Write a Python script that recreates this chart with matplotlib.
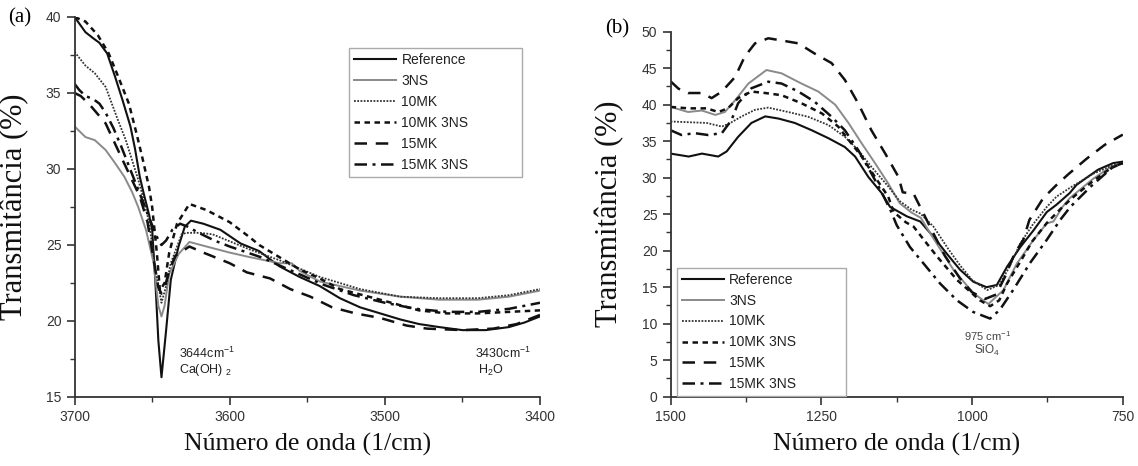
import matplotlib
matplotlib.use("Agg")
import matplotlib.pyplot as plt
from matplotlib.ticker import MultipleLocator

plt.rcParams['font.family'] = ['Liberation Sans', 'DejaVu Sans']
plt.rcParams['mathtext.default'] = 'regular'

# ---- panel (a): 3700-3400 cm-1 ----
ref_a_wn = [3700, 3693, 3688, 3684, 3679, 3674, 3669, 3664, 3661, 3658, 3655, 3652, 3650, 3648, 3646,
            3644, 3641, 3638, 3633, 3629, 3625, 3617, 3606, 3593, 3581, 3568, 3555, 3542, 3529, 3516,
            3503, 3490, 3478, 3465, 3450, 3435, 3420, 3410, 3400]
ref_a_t = [40.0, 39.0, 38.6, 38.3, 37.6, 36.1, 34.5, 32.8, 31.3, 29.5, 28.2, 27.0, 26.0, 22.7, 18.7,
           16.3, 19.4, 22.7, 24.9, 26.2, 26.6, 26.4, 26.0, 25.1, 24.6, 23.6, 22.9, 22.3, 21.5, 20.9,
           20.5, 20.1, 19.8, 19.6, 19.4, 19.4, 19.6, 19.9, 20.3]

ns3_a_wn = [3700, 3693, 3687, 3680, 3674, 3668, 3663, 3659, 3654, 3649, 3646, 3644, 3642, 3639, 3633,
            3626, 3615, 3600, 3587, 3568, 3560, 3555, 3542, 3516, 3490, 3465, 3440, 3420, 3400]
ns3_a_t = [32.8, 32.1, 31.9, 31.25, 30.4, 29.5, 28.5, 27.5, 26.0, 23.8, 21.0, 20.3, 21.0, 23.1, 24.4,
           25.2, 24.9, 24.5, 24.2, 23.8, 23.8, 23.3, 22.6, 22.0, 21.6, 21.4, 21.4, 21.6, 22.0]

mk10_a_wn = [3700, 3693, 3687, 3680, 3676, 3672, 3667, 3663, 3659, 3656, 3652, 3648, 3644, 3641, 3638,
             3631, 3628, 3619, 3611, 3587, 3568, 3542, 3516, 3490, 3465, 3440, 3420, 3400]
mk10_a_t = [37.7, 36.8, 36.3, 35.4, 34.3, 33.2, 31.9, 30.6, 29.3, 28.2, 26.5, 23.5, 21.2, 22.3, 23.8,
            25.7, 25.8, 25.8, 25.7, 24.7, 24.0, 22.9, 22.1, 21.6, 21.5, 21.5, 21.7, 22.1]

mk10ns3_a_wn = [3700, 3693, 3685, 3678, 3672, 3665, 3660, 3656, 3652, 3650, 3647, 3645, 3642, 3639, 3634,
                3626, 3615, 3600, 3587, 3581, 3568, 3555, 3542, 3529, 3503, 3478, 3460, 3440, 3420, 3400]
mk10ns3_a_t = [40.0, 39.7, 38.8, 37.6, 36.1, 34.3, 32.3, 30.6, 28.8, 27.5, 24.5, 22.0, 22.5, 24.5, 26.4,
               27.7, 27.3, 26.5, 25.5, 25.0, 24.2, 23.4, 22.8, 22.1, 21.4, 20.7, 20.5, 20.5, 20.6, 20.7]

mk15_a_wn = [3700, 3696, 3690, 3680, 3675, 3670, 3664, 3658, 3653, 3649, 3646, 3644, 3642, 3639, 3635,
             3626, 3617, 3600, 3589, 3574, 3561, 3548, 3534, 3519, 3503, 3486, 3473, 3450, 3430, 3415, 3400]
mk15_a_t = [35.0, 34.8, 34.2, 33.0, 31.9, 30.8, 29.5, 28.2, 26.5, 24.0, 22.2, 21.8, 22.2, 23.3, 24.3,
            24.9, 24.5, 23.8, 23.2, 22.8, 22.1, 21.6, 20.9, 20.5, 20.2, 19.7, 19.5, 19.4, 19.5, 19.8, 20.4]

mk15ns3_a_wn = [3700, 3697, 3693, 3688, 3684, 3680, 3675, 3670, 3665, 3660, 3655, 3650, 3646, 3644, 3641,
                3637, 3632, 3627, 3620, 3610, 3600, 3580, 3560, 3540, 3520, 3500, 3480, 3460, 3440, 3420, 3400]
mk15ns3_a_t = [35.6, 35.2, 34.8, 34.6, 34.3, 33.7, 32.7, 31.5, 30.2, 28.9, 27.6, 26.3, 25.3, 25.0, 25.3,
               26.0, 26.4, 26.2, 25.8, 25.3, 24.9, 24.2, 23.3, 22.4, 21.7, 21.2, 20.8, 20.6, 20.6, 20.8, 21.2]

# ---- panel (b): 1500-750 cm-1 ----
ref_b_wn = [1500, 1470, 1448, 1421, 1407, 1388, 1366, 1343, 1321, 1294, 1266, 1238, 1211, 1194, 1172,
            1150, 1136, 1108, 1086, 1064, 1042, 1020, 998, 976, 959, 942, 920, 898, 876, 860, 838, 827,
            810, 791, 766, 750]
ref_b_t = [33.3, 32.9, 33.3, 32.9, 33.6, 35.6, 37.5, 38.4, 38.1, 37.5, 36.5, 35.4, 34.2, 32.9, 30.1,
           27.9, 26.0, 24.7, 24.0, 21.9, 19.6, 17.4, 15.75, 15.0, 15.3, 17.8, 20.5, 22.8, 25.3, 26.3, 27.9,
           29.0, 30.0, 31.1, 32.0, 32.2]

ns3_b_wn = [1500, 1471, 1448, 1426, 1410, 1393, 1371, 1341, 1316, 1283, 1255, 1227, 1205, 1183, 1161,
            1139, 1120, 1100, 1085, 1065, 1031, 998, 973, 948, 926, 898, 876, 865, 850, 838, 800, 770, 750]
ns3_b_t = [39.7, 39.0, 39.2, 38.6, 39.0, 40.6, 42.9, 44.75, 44.3, 42.9, 41.8, 40.0, 37.5, 34.7, 32.0,
           29.2, 26.5, 25.2, 24.5, 21.8, 17.4, 14.2, 12.7, 14.6, 18.2, 21.5, 23.75, 24.0, 26.0, 27.2, 29.8,
           31.5, 32.0]

mk10_b_wn = [1500, 1470, 1440, 1415, 1402, 1382, 1360, 1338, 1305, 1272, 1238, 1211, 1189, 1167, 1139,
             1120, 1100, 1086, 1064, 1040, 1020, 1000, 975, 955, 940, 920, 900, 876, 860, 838, 800, 770, 750]
mk10_b_t = [37.7, 37.6, 37.5, 37.0, 37.45, 38.4, 39.3, 39.6, 39.0, 38.35, 37.2, 35.6, 33.8, 31.5, 28.8,
            26.8, 25.6, 25.1, 23.3, 20.3, 18.0, 16.0, 14.6, 15.3, 17.5, 21.0, 23.5, 26.0, 27.4, 28.6, 30.5,
            31.6, 32.0]

mk10ns3_b_wn = [1500, 1471, 1440, 1421, 1405, 1388, 1366, 1343, 1316, 1283, 1249, 1222, 1205, 1183, 1161,
                1139, 1130, 1110, 1097, 1080, 1058, 1025, 987, 970, 955, 942, 920, 900, 876, 850, 830, 800,
                770, 750]
mk10ns3_b_t = [39.7, 39.5, 39.5, 39.0, 39.5, 40.9, 41.8, 41.6, 41.3, 40.2, 38.8, 37.0, 35.2, 32.9, 30.1,
               27.4, 25.3, 23.9, 23.3, 21.5, 19.2, 16.0, 13.2, 12.4, 13.2, 15.5, 18.5, 21.3, 23.8, 26.0, 27.5,
               29.5, 31.3, 32.0]

mk15_b_wn = [1500, 1487, 1471, 1448, 1432, 1415, 1393, 1377, 1360, 1338, 1316, 1288, 1261, 1233, 1211,
             1189, 1167, 1144, 1122, 1115, 1097, 1080, 1065, 1045, 1020, 1000, 978, 960, 945, 930, 915, 905,
             882, 860, 840, 810, 780, 750]
mk15_b_t = [43.2, 42.2, 41.6, 41.6, 40.9, 41.8, 43.8, 46.6, 48.4, 49.1, 48.8, 48.4, 47.0, 45.7, 43.4,
            40.2, 36.5, 33.3, 30.1, 28.0, 27.8, 25.0, 22.5, 19.3, 16.2, 14.3, 13.4, 14.0, 16.5, 19.5, 21.5, 24.2,
            27.2, 29.0, 30.5, 32.6, 34.5, 35.9]

mk15ns3_b_wn = [1500, 1482, 1460, 1438, 1415, 1399, 1388, 1366, 1338, 1316, 1288, 1261, 1233, 1211, 1189,
                1167, 1150, 1135, 1125, 1103, 1081, 1053, 1025, 998, 970, 954, 932, 904, 876, 854, 837, 803,
                766, 750]
mk15ns3_b_t = [36.5, 35.85, 36.1, 35.85, 36.1, 37.9, 40.2, 42.25, 43.15, 42.9, 41.8, 40.4, 38.35, 36.5, 33.8,
               30.6, 28.0, 25.5, 23.5, 20.5, 18.3, 15.5, 13.2, 11.6, 10.7, 11.9, 14.6, 18.3, 21.5, 24.2, 26.0,
               28.8, 31.5, 32.0]

labels = ['Reference', '3NS', '10MK', '10MK 3NS', '15MK', '15MK 3NS']
styles = [dict(color='#111111', lw=1.5, ls='-'),
          dict(color='#8a8a8a', lw=1.4, ls='-'),
          dict(color='#333333', lw=1.3, ls=(0, (1, 0.8))),
          dict(color='#111111', lw=1.8, ls=(0, (2.2, 1.8))),
          dict(color='#111111', lw=1.8, ls=(0, (5, 3.5))),
          dict(color='#111111', lw=1.8, ls=(0, (5, 2.2, 1.2, 2.2)))]

series_a = [(ref_a_wn, ref_a_t), (ns3_a_wn, ns3_a_t), (mk10_a_wn, mk10_a_t),
            (mk10ns3_a_wn, mk10ns3_a_t), (mk15_a_wn, mk15_a_t), (mk15ns3_a_wn, mk15ns3_a_t)]
series_b = [(ref_b_wn, ref_b_t), (ns3_b_wn, ns3_b_t), (mk10_b_wn, mk10_b_t),
            (mk10ns3_b_wn, mk10ns3_b_t), (mk15_b_wn, mk15_b_t), (mk15ns3_b_wn, mk15ns3_b_t)]

W, H = 1138, 466
fig = plt.figure(figsize=(W / 100, H / 100), dpi=100)
ax_a = fig.add_axes([74.6 / W, 1 - 397 / H, (540 - 74.6) / W, (397 - 17) / H])
ax_b = fig.add_axes([670.6 / W, 1 - 396.7 / H, (1122.8 - 670.6) / W, (396.7 - 31.7) / H])

for (wn, t), lab, st in zip(series_a, labels, styles):
    ax_a.plot(wn, t, label=lab, **st)
for (wn, t), lab, st in zip(series_b, labels, styles):
    ax_b.plot(wn, t, label=lab, **st)


def style_axes(ax, xlim, ylim, xmaj, xmin, ymaj, ymin):
    ax.set_xlim(*xlim)
    ax.set_ylim(*ylim)
    ax.xaxis.set_major_locator(MultipleLocator(xmaj))
    ax.xaxis.set_minor_locator(MultipleLocator(xmin))
    ax.yaxis.set_major_locator(MultipleLocator(ymaj))
    ax.yaxis.set_minor_locator(MultipleLocator(ymin))
    for s in ['top', 'right']:
        ax.spines[s].set_visible(False)
    for s in ['left', 'bottom']:
        ax.spines[s].set_color('#333333')
        ax.spines[s].set_linewidth(1.3)
    ax.tick_params(which='major', direction='out', length=6, width=1.2, color='#333333',
                   labelsize=10, labelcolor='#333333')
    ax.tick_params(which='minor', direction='out', length=3.5, width=1.0, color='#333333')
    ax.set_ylabel('Transmitância (%)', family=['Liberation Serif'], fontsize=22, color='#111111')
    ax.set_xlabel('Número de onda (1/cm)', family=['Liberation Serif'], fontsize=18.5, color='#111111')
    ax.patch.set_alpha(0)


style_axes(ax_a, (3700, 3400), (15, 40), 100, 50, 5, 2.5)
style_axes(ax_b, (1500, 750), (0, 50), 250, 125, 5, 2.5)
ax_a.yaxis.set_label_coords(-0.098, 0.5)
ax_b.yaxis.set_label_coords(-0.103, 0.5)
ax_a.xaxis.set_label_coords(0.5, -0.095)
ax_b.xaxis.set_label_coords(0.5, -0.0995)

leg_kw = dict(loc='upper left', mode='expand', bbox_transform=fig.transFigure, borderaxespad=0,
              fancybox=False, framealpha=1, edgecolor='#aaaaaa', fontsize=10, handlelength=3.0,
              handletextpad=0.4, labelspacing=0.5, borderpad=0.35, labelcolor='#222222')
leg_a = ax_a.legend(bbox_to_anchor=(349.3 / W, 1 - 176.7 / H, 173 / W, 128.4 / H), **leg_kw)
leg_b = ax_b.legend(bbox_to_anchor=(677 / W, 1 - 394.3 / H, 169 / W, 126.6 / H), **leg_kw)
for leg in (leg_a, leg_b):
    leg.get_frame().set_linewidth(1.0)

# peak annotations
ann_kw = dict(fontsize=9, color='#222222', ha='left', va='center')
ax_a.text(3633, 17.9, '3644cm$^{-1}$', **ann_kw)
ax_a.text(3633, 16.75, 'Ca(OH)$_{\\ 2}$', **ann_kw)
ax_a.text(3442, 17.9, '3430cm$^{-1}$', **ann_kw)
ax_a.text(3440, 16.75, 'H$_2$O', **ann_kw)
ax_b.text(975, 8.3, '975 cm$^{-1}$', fontsize=8, color='#444444', ha='center', va='center')
ax_b.text(975, 6.3, 'SiO$_4$', fontsize=8.5, color='#444444', ha='center', va='center')

fig.text(20 / W, 1 - 17.5 / H, '(a)', family=['Liberation Serif'], fontsize=15, ha='center', va='center')
fig.text(617 / W, 1 - 28.5 / H, '(b)', family=['Liberation Serif'], fontsize=15, ha='center', va='center')

fig.savefig('out.png', dpi=100, facecolor='white')
